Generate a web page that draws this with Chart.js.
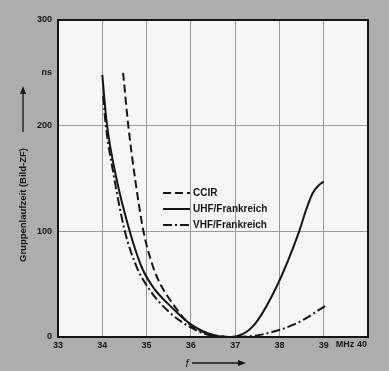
<!DOCTYPE html>
<html>
<head>
<meta charset="utf-8">
<script src="https://cdn.jsdelivr.net/npm/chart.js@4"></script>
<style>
  html, body { margin: 0; padding: 0; background: #adadad; overflow: hidden; }
  canvas { display: block; }
</style>
</head>
<body>
<canvas id="c" width="389" height="371"></canvas>
<script>
// Group delay of the picture IF stage versus frequency
const seriesNames = ['CCIR', 'UHF/Frankreich', 'VHF/Frankreich'];

const ccirF = [34.47, 34.59, 34.74, 34.93, 35.15, 35.3, 35.6, 36.0, 36.5, 36.85];
const ccirT = [250, 199, 150, 100, 66, 51, 31, 11, 2, 0];

const uhfF = [34.0, 34.1, 34.32, 34.62, 34.89, 35.15, 35.57, 36.0, 36.5, 36.9, 37.4, 37.94, 38.43, 38.6, 38.75, 38.9, 39.0];
const uhfT = [248, 203, 150, 100, 66, 47, 28, 12, 2, 0, 10, 48, 98, 120, 136, 144, 147];

const vhfF = [34.02, 34.08, 34.25, 34.51, 34.78, 35.08, 35.5, 36.0, 36.5, 36.9, 37.56, 38.39, 39.06];
const vhfT = [228, 200, 155, 100, 66, 44, 24, 9, 1, 0, 2, 13, 30];

const xTickValues = [33, 34, 35, 36, 37, 38, 39, 40];
const xTickLabels = ['33', '34', '35', '36', '37', '38', '39', '40'];
const xUnit = 'MHz';
const yTickValues = [0, 100, 200, 250, 300];
const yTickLabels = ['0', '100', '200', 'ns', '300'];
const yTitle = 'Gruppenlaufzeit (Bild-ZF)';
const xTitle = 'f';

const ink = '#161616';
const gridInk = '#9a9a9a';
const fontFamily = '"Liberation Sans", Arial, sans-serif';

const toPoints = (xs, ys) => xs.map((x, i) => ({ x: x, y: ys[i] }));

function arrow(ctx, x1, y1, x2, y2) {
  const a = Math.atan2(y2 - y1, x2 - x1);
  ctx.beginPath();
  ctx.moveTo(x1, y1);
  ctx.lineTo(x2 - 5 * Math.cos(a), y2 - 5 * Math.sin(a));
  ctx.stroke();
  ctx.beginPath();
  ctx.moveTo(x2, y2);
  ctx.lineTo(x2 - 8 * Math.cos(a) + 3 * Math.sin(a), y2 - 8 * Math.sin(a) - 3 * Math.cos(a));
  ctx.lineTo(x2 - 8 * Math.cos(a) - 3 * Math.sin(a), y2 - 8 * Math.sin(a) + 3 * Math.cos(a));
  ctx.closePath();
  ctx.fill();
}

const paperPlugin = {
  id: 'paper',
  beforeDraw(chart) {
    const { ctx, chartArea: a } = chart;
    ctx.save();
    ctx.fillStyle = '#adadad';
    ctx.fillRect(0, 0, chart.width, chart.height);
    ctx.fillStyle = '#f6f6f6';
    ctx.fillRect(a.left, a.top, a.right - a.left, a.bottom - a.top);
    ctx.restore();
  },
  afterDatasetsDraw(chart) {
    const { ctx, chartArea: a, scales } = chart;
    ctx.save();
    // frame
    ctx.strokeStyle = ink;
    ctx.lineWidth = 2;
    ctx.setLineDash([]);
    ctx.strokeRect(a.left, a.top, a.right - a.left, a.bottom - a.top);

    // last x label with unit
    ctx.fillStyle = ink;
    ctx.font = 'bold 9px ' + fontFamily;
    ctx.textBaseline = 'middle';
    const xl = scales.x.getPixelForValue(40);
    ctx.textAlign = 'right';
    ctx.fillText(xTickLabels[xTickLabels.length - 1], xl - 1, a.bottom + 8);
    ctx.textAlign = 'center';
    ctx.fillText(xUnit, xl - 23, a.bottom + 8);

    // legend
    const lx = a.left + 105, ly = a.top + 173, step = 16;
    chart.data.datasets.forEach((ds, i) => {
      const y = ly + i * step;
      ctx.strokeStyle = ds.borderColor;
      ctx.lineWidth = 2;
      ctx.setLineDash(ds.borderDash || []);
      ctx.beginPath();
      ctx.moveTo(lx, y);
      ctx.lineTo(lx + 27, y);
      ctx.stroke();
      ctx.setLineDash([]);
      ctx.fillStyle = ink;
      ctx.font = 'bold 10px ' + fontFamily;
      ctx.textAlign = 'left';
      ctx.textBaseline = 'middle';
      ctx.fillText(ds.label, lx + 30, y + 0.5);
    });

    // axis titles
    ctx.fillStyle = ink;
    ctx.strokeStyle = ink;
    ctx.lineWidth = 1.3;
    ctx.font = 'bold 9.5px ' + fontFamily;
    ctx.save();
    ctx.translate(23, 205);
    ctx.rotate(-Math.PI / 2);
    ctx.textAlign = 'center';
    ctx.textBaseline = 'middle';
    ctx.fillText(yTitle, 0, 0);
    ctx.restore();
    arrow(ctx, 23, 132, 23, 86);

    ctx.font = 'italic 11px ' + fontFamily;
    ctx.textAlign = 'center';
    ctx.textBaseline = 'middle';
    ctx.fillText(xTitle, 187, 364);
    arrow(ctx, 192, 363, 246, 363);
    ctx.restore();
  }
};

const line = (label, pts, dash) => ({
  label: label,
  data: pts,
  borderColor: ink,
  borderWidth: 2,
  borderDash: dash,
  pointRadius: 0,
  fill: false,
  cubicInterpolationMode: 'monotone'
});

new Chart(document.getElementById('c'), {
  type: 'line',
  data: {
    datasets: [
      line(seriesNames[0], toPoints(ccirF, ccirT), [8, 4]),
      line(seriesNames[1], toPoints(uhfF, uhfT), []),
      line(seriesNames[2], toPoints(vhfF, vhfT), [9, 3, 2, 3])
    ]
  },
  options: {
    responsive: false,
    animation: false,
    devicePixelRatio: 1,
    layout: { padding: { top: 20, right: 21, left: 0, bottom: 0 } },
    plugins: { legend: { display: false }, tooltip: { enabled: false } },
    scales: {
      x: {
        type: 'linear',
        min: 33,
        max: 40,
        afterBuildTicks: s => { s.ticks = xTickValues.map(v => ({ value: v })); },
        afterFit: s => { s.height = 34; },
        ticks: {
          autoSkip: false,
          maxRotation: 0,
          padding: 3,
          color: ink,
          font: { family: fontFamily, size: 9, weight: 'bold' },
          callback: v => (v === 40 ? '' : xTickLabels[xTickValues.indexOf(v)])
        },
        grid: {
          drawTicks: false,
          lineWidth: 1,
          color: c => (c.tick && c.tick.value > 33 && c.tick.value < 40 ? gridInk : 'rgba(0,0,0,0)')
        },
        border: { display: false }
      },
      y: {
        type: 'linear',
        min: 0,
        max: 300,
        afterBuildTicks: s => { s.ticks = yTickValues.map(v => ({ value: v })); },
        afterFit: s => { s.width = 58; },
        ticks: {
          autoSkip: false,
          padding: 6,
          color: ink,
          font: { family: fontFamily, size: 9, weight: 'bold' },
          callback: v => yTickLabels[yTickValues.indexOf(v)]
        },
        grid: {
          drawTicks: false,
          lineWidth: 1,
          color: c => (c.tick && (c.tick.value === 100 || c.tick.value === 200) ? gridInk : 'rgba(0,0,0,0)')
        },
        border: { display: false }
      }
    }
  },
  plugins: [paperPlugin]
});
</script>
</body>
</html>
